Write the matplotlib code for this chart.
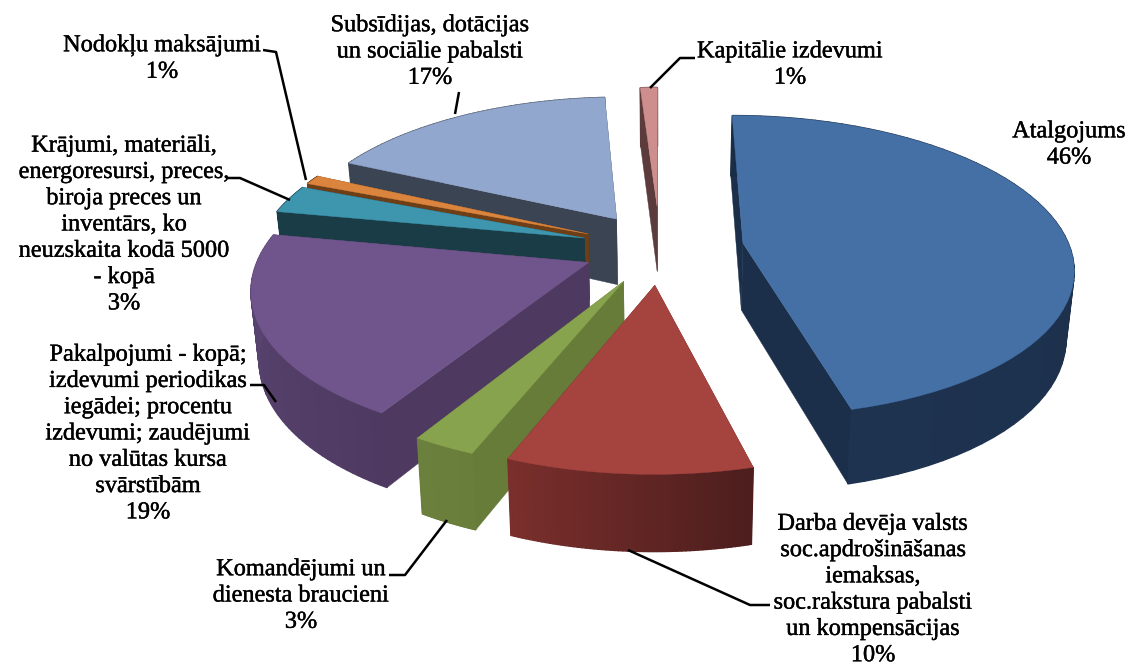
import numpy as np
import matplotlib
matplotlib.use("Agg")
import matplotlib.pyplot as plt
import matplotlib.patheffects as pe

# ---- data (clockwise from 12 o'clock)
names = ["Atalgojums", "Darba devēja", "Komandējumi", "Pakalpojumi", "Krājumi", "Nodokļu", "Subsīdijas", "Kapitālie"]
values = [46, 10, 2.6, 19.4, 3, 1, 17, 1]
labels = [
    "Atalgojums\n46%",
    "Darba devēja valsts\nsoc.apdrošināšanas\niemaksas,\nsoc.rakstura pabalsti\nun kompensācijas\n10%",
    "Komandējumi un\ndienesta braucieni\n3%",
    "Pakalpojumi - kopā;\nizdevumi periodikas\niegādei; procentu\nizdevumi; zaudējumi\nno valūtas kursa\nsvārstībām\n19%",
    "Krājumi, materiāli,\nenergoresursi, preces,\nbiroja preces un\ninventārs, ko\nneuzskaita kodā 5000\n- kopā\n3%",
    "Nodokļu maksājumi\n1%",
    "Subsīdijas, dotācijas\nun sociālie pabalsti\n17%",
    "Kapitālie izdevumi\n1%",
]

# ---- style
explode = [0.257, 0.243, 0.243, 0.236, 0.243, 0.243, 0.243, 0.293]
top_col = ["#4470A6", "#A5433F", "#87A34E", "#70558C", "#3D96AE", "#DB843D", "#92A7CE", "#CE8E8D"]
wall_col = ["#1B2F4A", "#662A28", "#687C3A", "#4E3A61", "#1A3C47", "#6E3F16", "#3B4453", "#5B3B3B"]
rim_a = ["#1A2D47", "#4C1E1D", "#6A7E3B", "#4E3A61", "#1A3C47", "#6E3F16", "#3B4453", "#5B3B3B"]
rim_b = ["#1E3350", "#7A2F2C", "#6A803C", "#5B4674", "#1A3C47", "#6E3F16", "#3B4453", "#5B3B3B"]
order = [7, 6, 5, 4, 3, 2, 1, 0]
label_xy = [(1069, 145), (873, 590), (301, 596), (148, 434), (124, 225), (162, 59), (430, 52), (790, 65)]
leaders = [
    [(650, 88), (680, 58), (695, 58)],
    [(455, 114), (459, 92)],
    [(306, 180), (276, 52), (263, 50)],
    [(290, 200), (240, 178), (228, 178)],
    [(276, 402), (264, 385), (250, 385)],
    [(447, 520), (405, 575), (389, 575)],
    [(628, 550), (750, 605), (770, 605)],
]

# perspective projection of the tilted pie, in pixels
CX, VY, G, A, K, D, KD = 660, -740, 988, 327, 0.15, 67, 0.107


def project(X, Y, z=0.0):
    Y = np.asarray(Y, float)
    w = 1 + K * Y
    sx = CX + A * np.asarray(X, float) / w * (1 - 0.02 * z)
    sy = VY + G / w + D * z / (1 + KD * Y)
    return sx, sy


def mix(a, b, u):
    ca, cb = np.array(matplotlib.colors.to_rgb(a)), np.array(matplotlib.colors.to_rgb(b))
    return tuple(ca + (cb - ca) * u)


fig = plt.figure(figsize=(11.3, 6.68), dpi=100)
ax = fig.add_axes([0, 0, 1, 1])
ax.set_xlim(0, 1130)
ax.set_ylim(668, 0)
ax.axis("off")

fractions = np.cumsum([0] + values) / np.sum(values)
for i in order:
    t0 = np.pi / 2 - 2 * np.pi * fractions[i]
    t1 = np.pi / 2 - 2 * np.pi * fractions[i + 1]
    mid = (t0 + t1) / 2
    ox, oy = explode[i] * np.cos(mid), explode[i] * np.sin(mid)
    t = np.linspace(t0, t1, 60)
    X, Y = ox + np.cos(t), oy + np.sin(t)
    # radial walls
    for j in (0, -1):
        p = [project(ox, oy, 0), project(X[j], Y[j], 0), project(X[j], Y[j], 1), project(ox, oy, 1)]
        ax.fill([q[0] for q in p], [q[1] for q in p], color=wall_col[i], lw=0.3)
    # outer rim as shaded strips
    for j in range(len(t) - 1):
        p = [project(X[j], Y[j], 0), project(X[j + 1], Y[j + 1], 0),
             project(X[j + 1], Y[j + 1], 1), project(X[j], Y[j], 1)]
        c = mix(rim_a[i], rim_b[i], j / (len(t) - 2))
        ax.fill([q[0] for q in p], [q[1] for q in p], facecolor=c, edgecolor=c, lw=1.0)
    # top face
    sx, sy = project(np.r_[ox, X], np.r_[oy, Y], 0)
    ax.fill(sx, sy, color=top_col[i], lw=0.3)

for pts in leaders:
    ax.plot(*zip(*pts), color="black", lw=1.8, solid_capstyle="butt")

for (x, y), s in zip(label_xy, labels):
    ax.text(x, y, s, ha="center", va="center", family="Liberation Serif", fontsize=17.5,
            linespacing=1.33, color="black",
            path_effects=[pe.withStroke(linewidth=0.3, foreground="black")])

fig.savefig("out.png", dpi=100)
